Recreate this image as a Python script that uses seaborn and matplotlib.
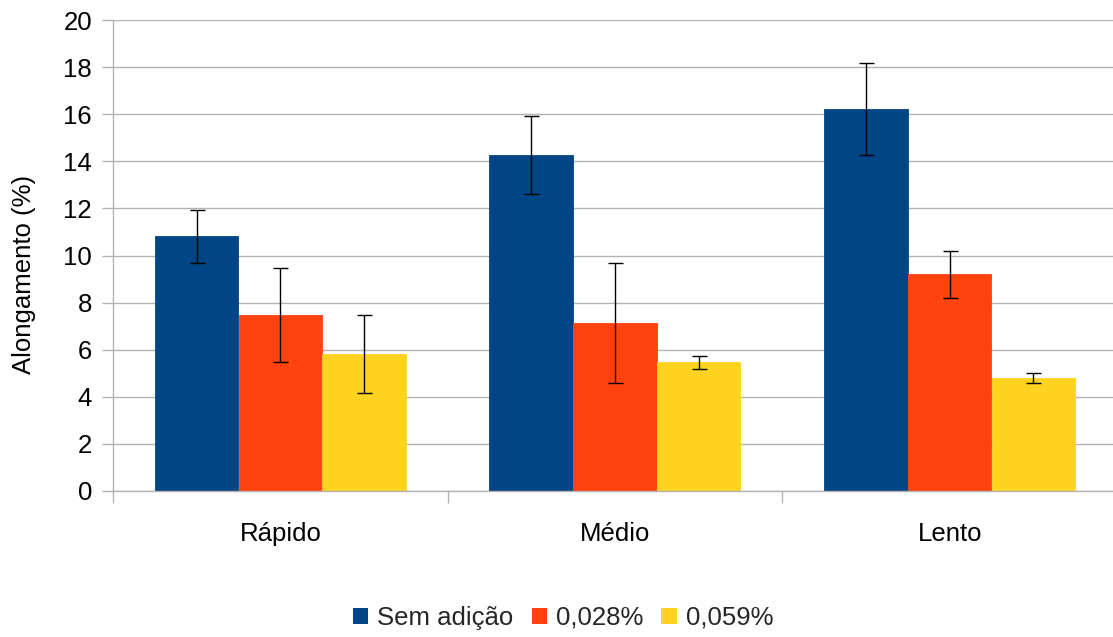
import matplotlib
matplotlib.use("Agg")
import matplotlib.pyplot as plt
import seaborn as sns
import pandas as pd
import numpy as np
from matplotlib.ticker import FixedLocator, MultipleLocator

# Elongation data per cooling rate and additive level
categories = ["Rápido", "Médio", "Lento"]
series = ["Sem adição", "0,028%", "0,059%"]
sem_adicao = [10.82, 14.27, 16.22]
sem_adicao_err = [1.12, 1.64, 1.94]
add_0028 = [7.47, 7.13, 9.21]
add_0028_err = [1.99, 2.56, 1.00]
add_0059 = [5.81, 5.47, 4.79]
add_0059_err = [1.66, 0.28, 0.22]

colors = ["#004586", "#ff420e", "#ffd320"]
grid_gray = "#b3b3b3"

sns.set_theme(style="white")
plt.rcParams["font.family"] = ["Liberation Sans", "DejaVu Sans"]
plt.rcParams["font.size"] = 18.5

means = [sem_adicao, add_0028, add_0059]
errs = [sem_adicao_err, add_0028_err, add_0059_err]
df = pd.DataFrame({
    "categoria": [c for _ in series for c in categories],
    "serie": [s for s in series for _ in categories],
    "valor": [v for m in means for v in m],
})

fig = plt.figure(figsize=(11.13, 6.37), dpi=100)
ax = fig.add_axes([113 / 1113, 146 / 637, 1004 / 1113, 471 / 637])

sns.barplot(data=df, x="categoria", y="valor", hue="serie", order=categories,
            hue_order=series, palette=colors, width=0.75, gap=0, saturation=1,
            errorbar=None, ax=ax, zorder=2, linewidth=0)

# Error bars centred on each drawn bar; bar edges take the fill colour so
# adjacent bars join without a seam
for container, err in zip(ax.containers, errs):
    for p in container.patches:
        p.set_edgecolor(p.get_facecolor())
        p.set_linewidth(0.6)
    xs = [p.get_x() + p.get_width() / 2 for p in container.patches]
    hs = [p.get_height() for p in container.patches]
    ax.errorbar(xs, hs, yerr=err, fmt="none", ecolor="black", elinewidth=1.0,
                capsize=5.4, capthick=1.0, zorder=3)

ax.set_ylim(0, 20)
ax.set_xlim(-0.5, 2.5)
ax.yaxis.set_major_locator(MultipleLocator(2))
ax.grid(axis="y", color=grid_gray, linewidth=1.0, zorder=0)
ax.grid(axis="x", visible=False)
ax.set_axisbelow(True)

for side in ("top", "right"):
    ax.spines[side].set_visible(False)
for side in ("left", "bottom"):
    ax.spines[side].set_color(grid_gray)
    ax.spines[side].set_linewidth(1.0)

ax.xaxis.set_minor_locator(FixedLocator([-0.5, 0.5, 1.5, 2.5]))
ax.tick_params(axis="x", which="major", length=0, pad=22, labelsize=18.5, colors="black")
ax.tick_params(axis="x", which="minor", length=8.6, width=1.0, color=grid_gray, bottom=True)
ax.tick_params(axis="y", which="major", length=8.2, width=1.0, color=grid_gray,
               left=True, pad=7, labelsize=18.5, labelcolor="black")

ax.set_xlabel("")
ax.set_ylabel("Alongamento (%)", fontsize=18.5, color="black")
ax.yaxis.set_label_coords(-0.077, 0.4607)

handles, labels = ax.get_legend_handles_labels()
ax.get_legend().remove()
fig.legend(handles, labels, loc="center", bbox_to_anchor=(0.506, 0.030), ncol=3,
           frameon=False, fontsize=18.5, handlelength=0.6, handleheight=0.6,
           handletextpad=0.35, columnspacing=0.7, borderaxespad=0)

fig.savefig("out.png", dpi=100)
